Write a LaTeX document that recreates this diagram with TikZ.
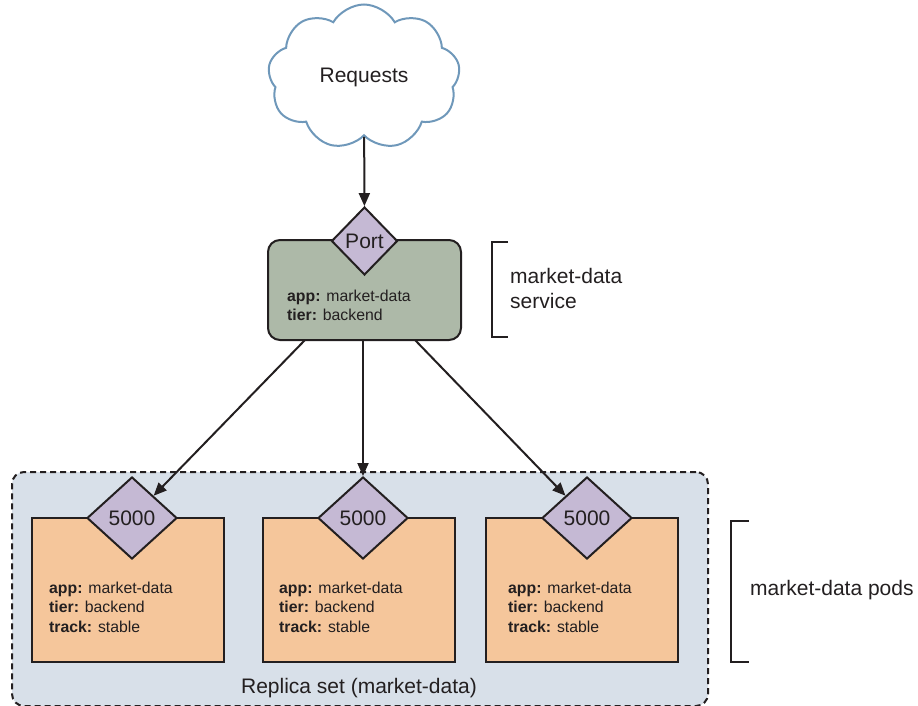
\documentclass[tikz,border=0pt]{standalone}
\usepackage{fontspec}
\setmainfont{Liberation Sans}
\usetikzlibrary{shapes.geometric,shapes.symbols,arrows.meta}
\definecolor{txt}{HTML}{231F20}
\definecolor{cloudline}{HTML}{6F98BA}
\definecolor{svcfill}{HTML}{ADB9A8}
\definecolor{portfill}{HTML}{C5B9D4}
\definecolor{podfill}{HTML}{F5C69B}
\definecolor{rsfill}{HTML}{D8E0E9}
\tikzset{
  every node/.style={text=txt},
  boxline/.style={draw=txt, line width=2pt},
  portd/.style={diamond, boxline, fill=portfill, inner sep=0pt, font=\fontsize{21}{23}\selectfont},
  podbox/.style={rectangle, boxline, fill=podfill, minimum width=192pt, minimum height=144pt, inner sep=0pt},
  labels/.style={anchor=west, align=left, inner sep=0pt, font=\fontsize{15.8}{19.5}\selectfont},
  bigtext/.style={font=\fontsize{21}{25}\selectfont},
  conn/.style={draw=txt, line width=2pt, -{Triangle[length=13pt,width=11pt]}},
  bracket/.style={draw=txt, line width=2pt},
}
\begin{document}
\begin{tikzpicture}[x=1pt,y=-1pt]
\useasboundingbox (0,0) rectangle (918,706);
% cloud
\node[cloud, draw=cloudline, line width=2pt, fill=white, cloud puffs=9, cloud puff arc=120, aspect=1.3, minimum width=192pt, minimum height=145pt, inner sep=0pt, bigtext] (req) at (364,77) {Requests};
% service
\node[rectangle, rounded corners=12pt, boxline, fill=svcfill, minimum width=193pt, minimum height=100pt, inner sep=0pt] (svc) at (364.5,290) {};
\node[portd, minimum width=66pt, minimum height=68pt] (port) at (364.5,241) {Port};
\node[labels] (svclab) at (287,305.5) {\textbf{app:} market-data\\\textbf{tier:} backend};
\draw[conn] (req) -- (port);
% bracket service
\draw[bracket] (508,242) -- (492,242) -- (492,337) -- (508,337);
\node[bigtext, anchor=west, align=left, inner sep=0pt] (svcname) at (510,288) {market-data\\service};
% replica set
\node[rectangle, draw=txt, line width=2pt, dash pattern=on 6pt off 4pt, rounded corners=12pt, fill=rsfill, minimum width=696pt, minimum height=234pt, inner sep=0pt] (rs) at (360,589) {};
\node[bigtext] (rslab) at (359,688) {Replica set (market-data)};
% pods
\node[podbox] (pod1) at (128,590) {};
\node[podbox] (pod2) at (358.5,590) {};
\node[podbox] (pod3) at (582,590) {};
\node[portd, minimum width=90pt, minimum height=82pt] (d1) at (132,518) {5000};
\node[portd, minimum width=90pt, minimum height=82pt] (d2) at (363,518) {5000};
\node[portd, minimum width=90pt, minimum height=82pt] (d3) at (587,518) {5000};
\node[labels] (l1) at (49,607) {\textbf{app:} market-data\\\textbf{tier:} backend\\\textbf{track:} stable};
\node[labels] (l2) at (279,607) {\textbf{app:} market-data\\\textbf{tier:} backend\\\textbf{track:} stable};
\node[labels] (l3) at (508,607) {\textbf{app:} market-data\\\textbf{tier:} backend\\\textbf{track:} stable};
% connectors
\coordinate (s1) at (305,340);
\coordinate (s2) at (363,340);
\coordinate (s3) at (415,340);
\draw[conn] (s1) -- (d1);
\draw[conn] (s2) -- (d2);
\draw[conn] (s3) -- (d3);
% bracket pods
\draw[bracket] (749,521) -- (731,521) -- (731,662) -- (749,662);
\node[bigtext, anchor=west, inner sep=0pt] (podname) at (750,590) {market-data pods};
\end{tikzpicture}
\end{document}
